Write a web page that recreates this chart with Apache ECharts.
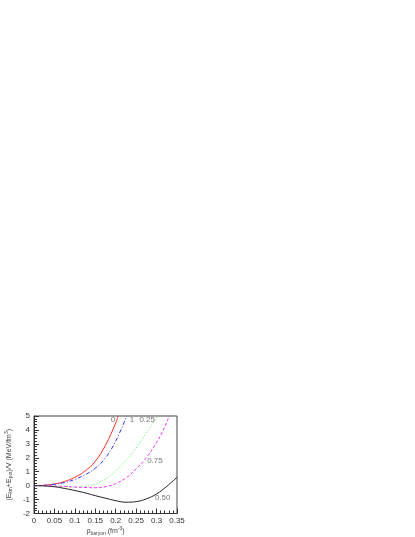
<!DOCTYPE html>
<html>
<head>
<meta charset="utf-8">
<script src="https://cdn.jsdelivr.net/npm/echarts@6/dist/echarts.min.js"></script>
<style>
  html, body { margin: 0; padding: 0; background: #fff; }
  #chart { width: 415px; height: 537px; }
</style>
</head>
<body>
<div id="chart"></div>
<script>
// density values (fm^-3) and energies per volume (MeV/fm^3), one pair of arrays per curve
const xRed = [0, 0.025, 0.05, 0.075, 0.1, 0.125, 0.15, 0.175, 0.2, 0.206]
const yRed = [0, 0.03, 0.12, 0.3, 0.6, 1.05, 1.75, 2.9, 4.5, 5]
const xBlue = [0, 0.025, 0.05, 0.075, 0.1, 0.125, 0.15, 0.175, 0.2, 0.227]
const yBlue = [0, 0.02, 0.1, 0.22, 0.45, 0.78, 1.25, 2.0, 3.2, 5]
const xGreen = [0, 0.025, 0.05, 0.075, 0.1, 0.125, 0.15, 0.175, 0.2, 0.225, 0.25, 0.275, 0.304]
const yGreen = [0, 0, -0.02, -0.06, -0.1, -0.06, 0.12, 0.48, 1.05, 1.8, 2.7, 3.8, 5]
const xMagenta = [0, 0.025, 0.05, 0.075, 0.1, 0.125, 0.15, 0.175, 0.2, 0.225, 0.25, 0.275, 0.3, 0.315, 0.331]
const yMagenta = [0, 0, -0.03, -0.06, -0.1, -0.13, -0.15, -0.08, 0.15, 0.55, 1.2, 2.0, 3.1, 3.9, 5]
const xBlack = [0, 0.025, 0.05, 0.075, 0.1, 0.125, 0.15, 0.175, 0.2, 0.225, 0.25, 0.275, 0.3, 0.325, 0.35]
const yBlack = [0, -0.02, -0.08, -0.2, -0.35, -0.52, -0.72, -0.9, -1.08, -1.19, -1.15, -0.95, -0.6, -0.05, 0.6]

const curveLabels = ['0.', '1', '0.25', '0.75', '0.50']
const labelX = [0.196, 0.24, 0.277, 0.296, 0.315]
const labelY = [4.75, 4.75, 4.75, 1.77, -0.88]

const xTicks = [0, 0.05, 0.1, 0.15, 0.2, 0.25, 0.3, 0.35]

function pairs(xs, ys) {
  return xs.map((x, i) => [x, ys[i]])
}

function curve(name, xs, ys, color, type, idx) {
  return {
    name,
    type: 'line',
    smooth: 0.4,
    symbol: 'none',
    data: pairs(xs, ys),
    lineStyle: { color, width: 1, type },
    z: 3,
    markPoint: {
      symbol: 'circle',
      symbolSize: 0,
      silent: true,
      label: {
        show: true,
        position: 'inside',
        formatter: curveLabels[idx],
        color: '#777',
        fontSize: 8,
        fontFamily: 'Liberation Sans'
      },
      data: [{ coord: [labelX[idx], labelY[idx]] }]
    }
  }
}

const nameRich = {
  n: { fontSize: 7, color: '#444', fontFamily: 'Liberation Sans' },
  sub: { fontSize: 5, color: '#444', fontFamily: 'Liberation Sans', padding: [4, 0, 0, 0] },
  sup: { fontSize: 5, color: '#444', fontFamily: 'Liberation Sans', padding: [0, 0, 5, 0] }
}

const chart = echarts.init(document.getElementById('chart'))
chart.setOption({
  backgroundColor: '#fff',
  animation: false,
  grid: {
    left: 34,
    right: 238,
    top: 416,
    bottom: 19,
    show: true,
    borderColor: '#444',
    borderWidth: 1,
    backgroundColor: 'transparent'
  },
  xAxis: {
    type: 'value',
    min: 0,
    max: 0.35,
    interval: 0.05,
    name: '{n|ρ}{sub|baryon}{n| (fm}{sup|-3}{n|)}',
    nameLocation: 'middle',
    nameGap: 13,
    nameTextStyle: { rich: nameRich },
    axisLine: { onZero: false, lineStyle: { color: '#333', width: 1 } },
    axisTick: { inside: true, length: 5, lineStyle: { color: '#333' } },
    minorTick: { show: true, splitNumber: 5, length: 3, lineStyle: { color: '#333' } },
    splitLine: { show: false },
    axisLabel: {
      margin: 3,
      fontSize: 8,
      color: '#333',
      fontFamily: 'Liberation Sans',
      formatter: v => {
        const t = xTicks.find(a => Math.abs(a - v) < 1e-9)
        return t === undefined ? '' : String(t)
      }
    }
  },
  yAxis: {
    type: 'value',
    min: -2,
    max: 5,
    interval: 1,
    name: '{n|(E}{sub|kin}{n|+E}{sub|pot}{n|)/V (MeV/fm}{sup|3}{n|)}',
    nameLocation: 'middle',
    nameGap: 20,
    nameRotate: 90,
    nameTextStyle: { rich: nameRich },
    axisLine: { show: true, onZero: false, lineStyle: { color: '#333', width: 1 } },
    axisTick: { show: true, inside: true, length: 5, lineStyle: { color: '#333' } },
    minorTick: { show: true, splitNumber: 5, length: 3, lineStyle: { color: '#333' } },
    splitLine: { show: false },
    axisLabel: { margin: 4, fontSize: 8, color: '#333', fontFamily: 'Liberation Sans' }
  },
  series: [
    curve('0', xRed, yRed, '#ff3030', 'solid', 0),
    curve('1', xBlue, yBlue, '#3030ff', [4, 2, 1, 2], 1),
    curve('0.25', xGreen, yGreen, '#40ff40', [1, 2], 2),
    curve('0.75', xMagenta, yMagenta, '#ff30ff', [3, 2], 3),
    curve('0.50', xBlack, yBlack, '#222', 'solid', 4)
  ]
})
</script>
</body>
</html>
